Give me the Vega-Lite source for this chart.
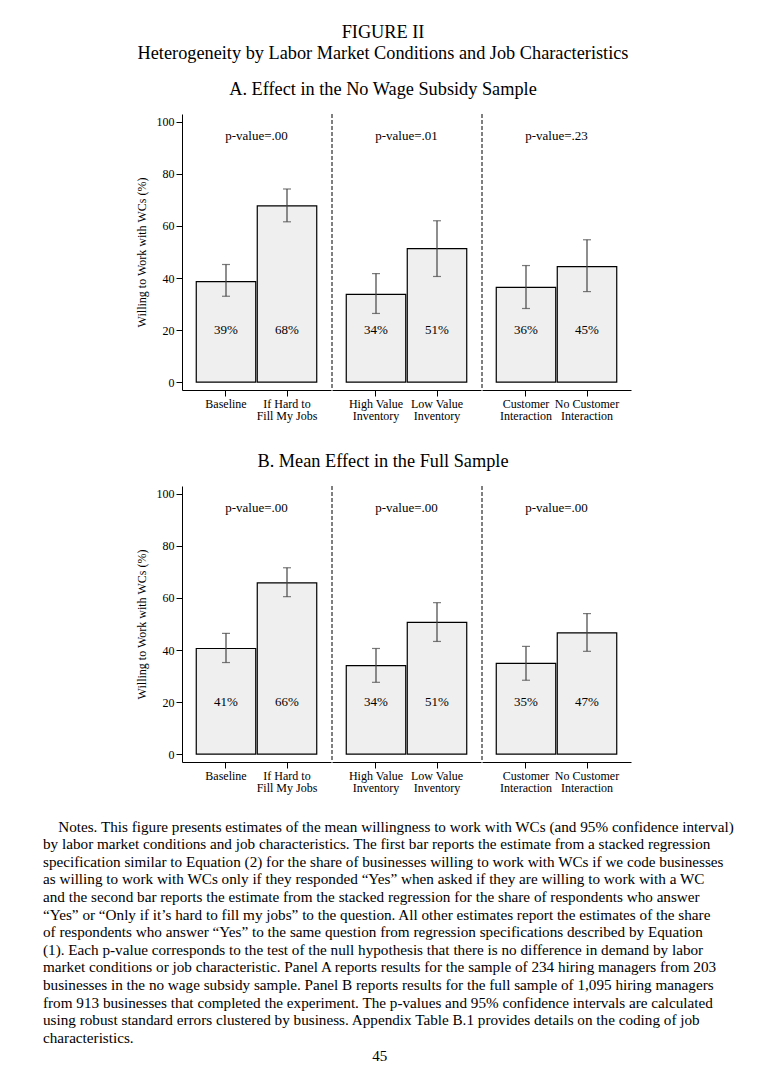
{
  "$schema": "https://vega.github.io/schema/vega-lite/v6.json",
  "padding": {"left": 43, "top": 22, "right": 5, "bottom": 5},
  "background": "white",
  "config": {
    "font": "Liberation Serif",
    "view": {"stroke": null},
    "axis": {"domainColor": "black", "tickColor": "black", "labelColor": "black", "titleColor": "black", "labelFont": "Liberation Serif", "titleFont": "Liberation Serif", "grid": false, "domainWidth": 1, "tickWidth": 1},
    "title": {"font": "Liberation Serif", "color": "black", "fontWeight": "normal", "subtitleFont": "Liberation Serif", "subtitleColor": "black"}
  },
  "datasets": {
    "panelA": [
      {"group": "Hiring", "label": "Baseline", "share": 38.6, "lower": 33.0, "upper": 45.2, "pct": "39%", "ptext": "p-value=.00"},
      {"group": "Hiring", "label": "If Hard to\nFill My Jobs", "share": 67.7, "lower": 61.6, "upper": 74.2, "pct": "68%", "ptext": "p-value=.00"},
      {"group": "Inventory", "label": "High Value\nInventory", "share": 33.7, "lower": 26.4, "upper": 41.7, "pct": "34%", "ptext": "p-value=.01"},
      {"group": "Inventory", "label": "Low Value\nInventory", "share": 51.3, "lower": 40.6, "upper": 62.0, "pct": "51%", "ptext": "p-value=.01"},
      {"group": "Customer", "label": "Customer\nInteraction", "share": 36.4, "lower": 28.3, "upper": 44.8, "pct": "36%", "ptext": "p-value=.23"},
      {"group": "Customer", "label": "No Customer\nInteraction", "share": 44.4, "lower": 34.8, "upper": 54.7, "pct": "45%", "ptext": "p-value=.23"}
    ],
    "panelB": [
      {"group": "Hiring", "label": "Baseline", "share": 40.6, "lower": 35.2, "upper": 46.4, "pct": "41%", "ptext": "p-value=.00"},
      {"group": "Hiring", "label": "If Hard to\nFill My Jobs", "share": 65.8, "lower": 60.5, "upper": 71.6, "pct": "66%", "ptext": "p-value=.00"},
      {"group": "Inventory", "label": "High Value\nInventory", "share": 34.0, "lower": 27.6, "upper": 40.6, "pct": "34%", "ptext": "p-value=.00"},
      {"group": "Inventory", "label": "Low Value\nInventory", "share": 50.6, "lower": 43.3, "upper": 58.2, "pct": "51%", "ptext": "p-value=.00"},
      {"group": "Customer", "label": "Customer\nInteraction", "share": 34.9, "lower": 28.4, "upper": 41.4, "pct": "35%", "ptext": "p-value=.00"},
      {"group": "Customer", "label": "No Customer\nInteraction", "share": 46.6, "lower": 39.5, "upper": 54.0, "pct": "47%", "ptext": "p-value=.00"}
    ]
  },
  "title": {"text": "45", "orient": "bottom", "anchor": "middle", "frame": "bounds", "fontSize": 15, "offset": 3, "dx": -9},
  "vconcat": [
    {
      "title": {
        "text": [
          "\u200b\u00a0\u00a0\u00a0\u00a0Notes. This figure presents estimates of the mean willingness to work with WCs (and 95% confidence interval)",
          "by labor market conditions and job characteristics. The first bar reports the estimate from a stacked regression",
          "specification similar to Equation (2) for the share of businesses willing to work with WCs if we code businesses",
          "as willing to work with WCs only if they responded \u201cYes\u201d when asked if they are willing to work with a WC",
          "and the second bar reports the estimate from the stacked regression for the share of respondents who answer",
          "\u201cYes\u201d or \u201cOnly if it\u2019s hard to fill my jobs\u201d to the question. All other estimates report the estimates of the share",
          "of respondents who answer \u201cYes\u201d to the same question from regression specifications described by Equation",
          "(1). Each p-value corresponds to the test of the null hypothesis that there is no difference in demand by labor",
          "market conditions or job characteristic. Panel A reports results for the sample of 234 hiring managers from 203",
          "businesses in the no wage subsidy sample. Panel B reports results for the full sample of 1,095 hiring managers",
          "from 913 businesses that completed the experiment. The p-values and 95% confidence intervals are calculated",
          "using robust standard errors clustered by business. Appendix Table B.1 provides details on the coding of job",
          "characteristics."
        ],
        "orient": "bottom", "anchor": "start", "frame": "bounds", "align": "left", "dx": -92,
        "fontSize": 15.2, "lineHeight": 17.6, "offset": 26
      },
      "spacing": 30,
      "vconcat": [
        {
          "data": {"name": "panelA"},
          "title": {
            "text": ["FIGURE II", "Heterogeneity by Labor Market Conditions and Job Characteristics"],
            "subtitle": "A. Effect in the No Wage Subsidy Sample",
            "fontSize": 18.3, "subtitleFontSize": 18.3, "lineHeight": 21, "subtitleLineHeight": 21,
            "subtitlePadding": 18, "anchor": "middle", "frame": "bounds", "offset": 14
          },
          "facet": {"column": {"field": "group", "type": "nominal", "sort": ["Hiring", "Inventory", "Customer"], "header": {"title": null, "labels": false}}},
          "spacing": 0,
          "resolve": {"scale": {"x": "independent"}},
          "spec": {
            "width": 149,
            "height": 276,
            "encoding": {
              "x": {"field": "label", "type": "nominal", "sort": null,
                "scale": {"paddingInner": 0, "paddingOuter": 0.2213},
                "axis": {"title": null, "labelAngle": 0, "labelExpr": "split(datum.label, '\\n')", "labelFontSize": 12, "labelLineHeight": 12.5, "tickSize": 6, "labelPadding": 2, "labelBaseline": "top"}}
            },
            "layer": [
              {
                "transform": [{"filter": "datum.group !== 'Hiring' && (indexof(datum.label, 'High Value') === 0 || indexof(datum.label, 'Customer') === 0)"}],
                "mark": {"type": "rule", "strokeDash": [4, 2], "color": "black", "strokeWidth": 1},
                "encoding": {"x": {"field": "label", "type": "nominal", "sort": null, "bandPosition": -0.2213}}
              },
              {
                "mark": {"type": "bar", "fill": "#efefef", "stroke": "black", "strokeWidth": 1.2, "width": {"band": 0.975}},
                "encoding": {
                  "y": {"field": "share", "type": "quantitative", "title": "Willing to Work with WCs (%)",
                    "scale": {"domain": [-3, 103], "nice": false, "zero": false},
                    "axis": {"values": [0, 20, 40, 60, 80, 100], "tickSize": 6, "labelPadding": 2, "labelFontSize": 12, "titleFontSize": 12, "titleFontWeight": "normal", "titlePadding": 8}},
                  "y2": {"datum": 0}
                }
              },
              {
                "mark": {"type": "rule", "color": "#444444", "strokeWidth": 1.2},
                "encoding": {"y": {"field": "lower", "type": "quantitative", "title": "Willing to Work with WCs (%)"}, "y2": {"field": "upper"}}
              },
              {
                "mark": {"type": "tick", "color": "#444444", "thickness": 1.2, "size": 8},
                "encoding": {"y": {"field": "lower", "type": "quantitative", "title": "Willing to Work with WCs (%)"}}
              },
              {
                "mark": {"type": "tick", "color": "#444444", "thickness": 1.2, "size": 8},
                "encoding": {"y": {"field": "upper", "type": "quantitative", "title": "Willing to Work with WCs (%)"}}
              },
              {
                "mark": {"type": "text", "fontSize": 13, "baseline": "middle", "color": "black"},
                "encoding": {"y": {"datum": 20, "type": "quantitative", "title": "Willing to Work with WCs (%)"}, "text": {"field": "pct"}}
              },
              {
                "transform": [{"filter": "indexof(datum.label, 'Baseline') === 0 || indexof(datum.label, 'High Value') === 0 || indexof(datum.label, 'Customer') === 0"}],
                "mark": {"type": "text", "fontSize": 13, "baseline": "middle", "color": "black"},
                "encoding": {
                  "x": {"field": "label", "type": "nominal", "sort": null, "bandPosition": 1},
                  "y": {"datum": 94.6, "type": "quantitative", "title": "Willing to Work with WCs (%)"},
                  "text": {"field": "ptext"}
                }
              }
            ]
          }
        },
        {
          "data": {"name": "panelB"},
          "title": {"text": "B. Mean Effect in the Full Sample", "fontSize": 18.3, "anchor": "middle", "frame": "bounds", "offset": 14},
          "facet": {"column": {"field": "group", "type": "nominal", "sort": ["Hiring", "Inventory", "Customer"], "header": {"title": null, "labels": false}}},
          "spacing": 0,
          "resolve": {"scale": {"x": "independent"}},
          "spec": {
            "width": 149,
            "height": 276,
            "encoding": {
              "x": {"field": "label", "type": "nominal", "sort": null,
                "scale": {"paddingInner": 0, "paddingOuter": 0.2213},
                "axis": {"title": null, "labelAngle": 0, "labelExpr": "split(datum.label, '\\n')", "labelFontSize": 12, "labelLineHeight": 12.5, "tickSize": 6, "labelPadding": 2, "labelBaseline": "top"}}
            },
            "layer": [
              {
                "transform": [{"filter": "datum.group !== 'Hiring' && (indexof(datum.label, 'High Value') === 0 || indexof(datum.label, 'Customer') === 0)"}],
                "mark": {"type": "rule", "strokeDash": [4, 2], "color": "black", "strokeWidth": 1},
                "encoding": {"x": {"field": "label", "type": "nominal", "sort": null, "bandPosition": -0.2213}}
              },
              {
                "mark": {"type": "bar", "fill": "#efefef", "stroke": "black", "strokeWidth": 1.2, "width": {"band": 0.975}},
                "encoding": {
                  "y": {"field": "share", "type": "quantitative", "title": "Willing to Work with WCs (%)",
                    "scale": {"domain": [-3, 103], "nice": false, "zero": false},
                    "axis": {"values": [0, 20, 40, 60, 80, 100], "tickSize": 6, "labelPadding": 2, "labelFontSize": 12, "titleFontSize": 12, "titleFontWeight": "normal", "titlePadding": 8}},
                  "y2": {"datum": 0}
                }
              },
              {
                "mark": {"type": "rule", "color": "#444444", "strokeWidth": 1.2},
                "encoding": {"y": {"field": "lower", "type": "quantitative", "title": "Willing to Work with WCs (%)"}, "y2": {"field": "upper"}}
              },
              {
                "mark": {"type": "tick", "color": "#444444", "thickness": 1.2, "size": 8},
                "encoding": {"y": {"field": "lower", "type": "quantitative", "title": "Willing to Work with WCs (%)"}}
              },
              {
                "mark": {"type": "tick", "color": "#444444", "thickness": 1.2, "size": 8},
                "encoding": {"y": {"field": "upper", "type": "quantitative", "title": "Willing to Work with WCs (%)"}}
              },
              {
                "mark": {"type": "text", "fontSize": 13, "baseline": "middle", "color": "black"},
                "encoding": {"y": {"datum": 20, "type": "quantitative", "title": "Willing to Work with WCs (%)"}, "text": {"field": "pct"}}
              },
              {
                "transform": [{"filter": "indexof(datum.label, 'Baseline') === 0 || indexof(datum.label, 'High Value') === 0 || indexof(datum.label, 'Customer') === 0"}],
                "mark": {"type": "text", "fontSize": 13, "baseline": "middle", "color": "black"},
                "encoding": {
                  "x": {"field": "label", "type": "nominal", "sort": null, "bandPosition": 1},
                  "y": {"datum": 94.6, "type": "quantitative", "title": "Willing to Work with WCs (%)"},
                  "text": {"field": "ptext"}
                }
              }
            ]
          }
        }
      ]
    }
  ]
}
